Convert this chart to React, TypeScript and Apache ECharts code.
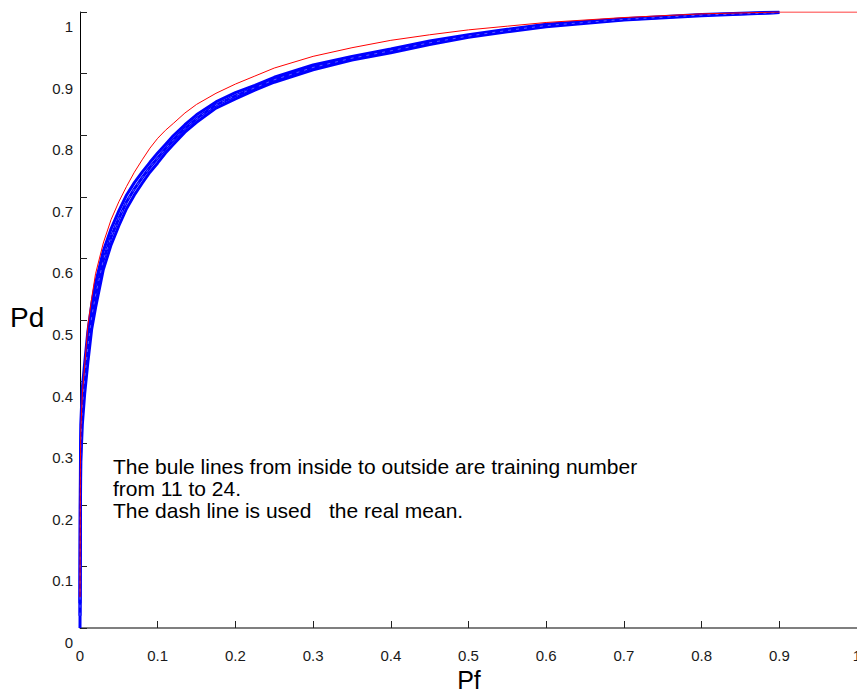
import React, { useEffect, useRef } from "react";
import * as echarts from "echarts";

// Shared false-alarm probability grid (Pf)
const pfGrid = [0, 0.0005, 0.001, 0.003, 0.006, 0.01, 0.015, 0.02, 0.03, 0.04, 0.05, 0.06, 0.07, 0.08, 0.09, 0.1, 0.11, 0.12, 0.135, 0.15, 0.175, 0.2, 0.225, 0.25, 0.3, 0.35, 0.4, 0.45, 0.5, 0.55, 0.6, 0.7, 0.8, 0.9, 1.0];

// Red curve (Pd)
const redPd = [0.05, 0.26, 0.32, 0.38, 0.425, 0.49, 0.535, 0.575, 0.625, 0.663, 0.692, 0.717, 0.74, 0.76, 0.779, 0.795, 0.808, 0.819, 0.836, 0.85, 0.868, 0.883, 0.896, 0.909, 0.928, 0.942, 0.954, 0.963, 0.971, 0.977, 0.983, 0.991, 0.997, 1.0, 1.0];

// Blue band: outer, middle and inner training-number curves (Pd)
const blueOuterPd = [0.04, 0.25, 0.33, 0.39, 0.43, 0.48, 0.525, 0.56, 0.612, 0.648, 0.677, 0.703, 0.723, 0.74, 0.756, 0.771, 0.785, 0.799, 0.817, 0.833, 0.854, 0.869, 0.881, 0.894, 0.914, 0.928, 0.94, 0.953, 0.963, 0.972, 0.98, 0.989, 0.996, 1.0, null];
const blueMidPd = [0.02, 0.22, 0.3, 0.36, 0.405, 0.455, 0.505, 0.54, 0.597, 0.635, 0.665, 0.692, 0.713, 0.731, 0.748, 0.763, 0.778, 0.792, 0.811, 0.827, 0.849, 0.864, 0.877, 0.89, 0.91, 0.925, 0.937, 0.95, 0.961, 0.97, 0.978, 0.988, 0.995, 0.999, null];
const blueInnerPd = [0.0, 0.19, 0.27, 0.33, 0.38, 0.43, 0.485, 0.52, 0.582, 0.622, 0.653, 0.681, 0.703, 0.722, 0.74, 0.755, 0.771, 0.785, 0.805, 0.821, 0.844, 0.859, 0.873, 0.886, 0.906, 0.922, 0.934, 0.947, 0.959, 0.968, 0.976, 0.987, 0.994, 0.999, null];

const annotationLines = [
  "The bule lines from inside to outside are training number",
  "from 11 to 24.",
  "The dash line is used \u00a0 the real mean.",
];

const pairs = (ys: (number | null)[]) =>
  pfGrid.map((x, i) => [x, ys[i]]).filter((p) => p[1] !== null);

const FONT = "'Liberation Sans', Arial, Helvetica, sans-serif";

export default function App() {
  const ref = useRef<HTMLDivElement>(null);
  useEffect(() => {
    if (!ref.current) return;
    const chart = echarts.init(ref.current, undefined, { renderer: "svg" });
    const fmt = (v: number) => String(Math.round(v * 10) / 10);
    const blueLine = (name: string, ys: (number | null)[]) => ({
      name,
      type: "line",
      data: pairs(ys),
      showSymbol: false,
      symbol: "none",
      smooth: false,
      lineStyle: { color: "#0000ff", width: 3 },
      z: 2,
    });
    chart.setOption({
      animation: false,
      backgroundColor: "#ffffff",
      grid: { left: 80, right: 0, top: 12, bottom: 65, containLabel: false, outerBoundsMode: "none" },
      xAxis: {
        type: "value",
        min: 0,
        max: 1,
        interval: 0.1,
        axisLine: { show: true, lineStyle: { color: "#555", width: 1.5 } },
        axisTick: { show: true, inside: true, length: 7, lineStyle: { color: "#222" } },
        splitLine: { show: false },
        axisLabel: {
          formatter: fmt,
          margin: 20,
          fontSize: 15,
          color: "#1a1a1a",
          fontFamily: FONT,
          hideOverlap: false,
        },
      },
      yAxis: {
        type: "value",
        min: 0,
        max: 1,
        interval: 0.1,
        axisLine: { show: true, lineStyle: { color: "#000", width: 1 } },
        axisTick: { show: true, inside: true, length: 7, lineStyle: { color: "#222" } },
        splitLine: { show: false },
        axisLabel: {
          formatter: fmt,
          margin: 7,
          fontSize: 15,
          color: "#1a1a1a",
          fontFamily: FONT,
          verticalAlign: "top",
          padding: [7, 0, 0, 0],
        },
      },
      series: [
        blueLine("Training 24", blueOuterPd),
        blueLine("Training mid", blueMidPd),
        blueLine("Training 11", blueInnerPd),
        {
          name: "Real mean",
          type: "line",
          data: pairs(blueMidPd),
          showSymbol: false,
          symbol: "none",
          smooth: false,
          lineStyle: { color: "#ffffff", width: 0.6, type: [3, 5], opacity: 0.6 },
          z: 3,
        },
        {
          name: "Red",
          type: "line",
          data: pairs(redPd),
          showSymbol: false,
          symbol: "none",
          smooth: false,
          lineStyle: { color: "#ff0000", width: 1 },
          z: 4,
        },
      ],
      graphic: [
        {
          type: "text",
          left: 10,
          top: 303,
          style: { text: "Pd", font: `28px ${FONT}`, fill: "#000" },
        },
        {
          type: "text",
          x: 469,
          y: 667,
          style: { text: "Pf", font: `25px ${FONT}`, fill: "#000", align: "center" },
        },
        {
          type: "text",
          x: 113,
          y: 455,
          style: {
            text: annotationLines.join("\n"),
            font: `21px ${FONT}`,
            lineHeight: 22,
            fill: "#000",
          },
        },
      ],
    });
    return () => chart.dispose();
  }, []);
  return (
    <div
      ref={ref}
      style={{ position: "fixed", left: 0, top: 0, width: 857, height: 693, background: "#fff" }}
    />
  );
}
